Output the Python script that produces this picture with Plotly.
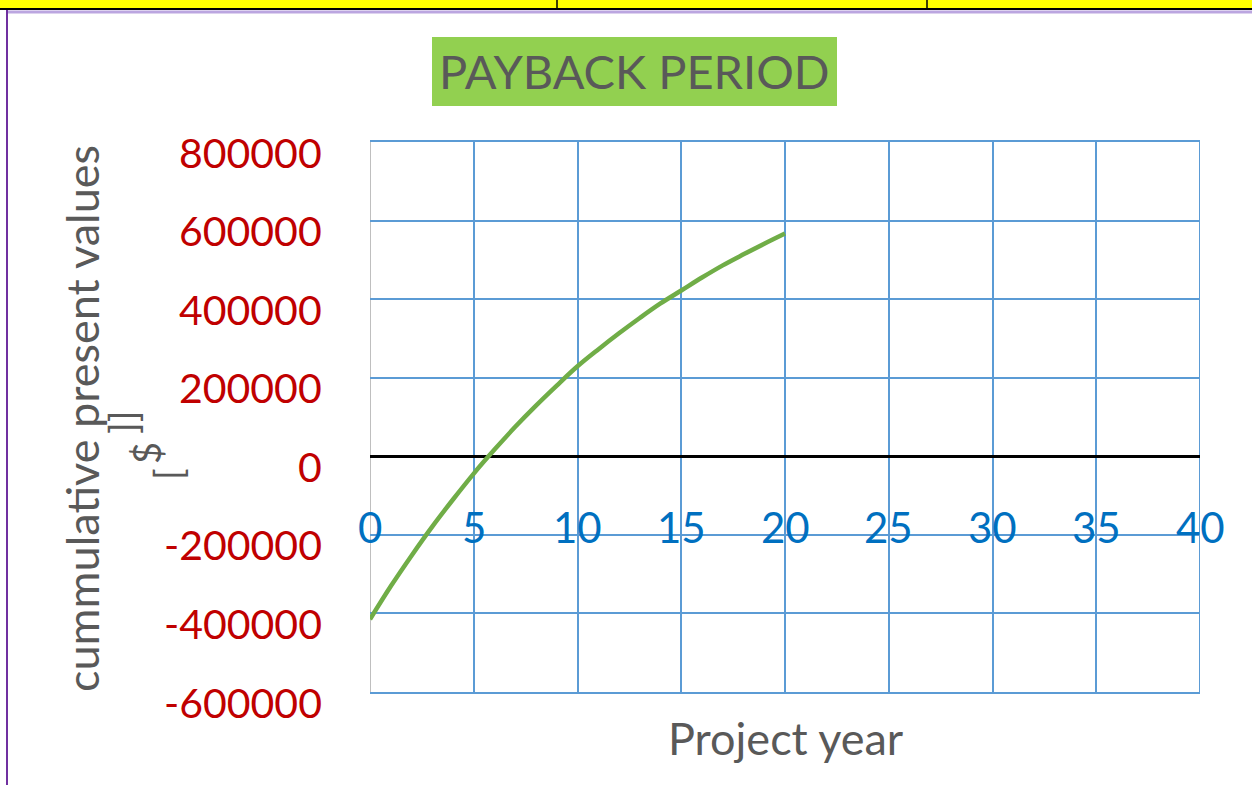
import plotly.graph_objects as go

# ---- data ----
years = list(range(0, 21))
cum_pv = [-415000, -331000, -253000, -179000, -110000, -44000, 17000, 75000,
          129000, 180000, 229000, 272000, 313000, 352000, 389000, 422000,
          455000, 486000, 514000, 541000, 567000]

x_ticks = [0, 5, 10, 15, 20, 25, 30, 35, 40]
y_ticks = [-600000, -400000, -200000, 0, 200000, 400000, 600000, 800000]
y_tick_text = ["-600000", "-400000", "-200000", "0", "200000", "400000", "600000", "800000"]

title_text = "PAYBACK PERIOD"
x_title = "Project year"
y_title = "cummulative present values"

FONT = "Lato"
W, H = 1252, 785
L, R, T, B = 370, 52, 142, 93
PW, PH = W - L - R, H - T - B
GRID = "#5B9BD5"


def px(xp):
    return (xp - L) / PW


def py(yp):
    return (H - B - yp) / PH


fig = go.Figure()
fig.add_trace(go.Scatter(x=years, y=cum_pv, mode="lines",
                         line=dict(color="#70AD47", width=4.5, shape="spline"),
                         showlegend=False, hoverinfo="skip"))

shapes = [
    # yellow strip at top with borders
    dict(type="rect", xref="paper", yref="paper", x0=px(0), x1=px(W), y0=py(9), y1=py(-5),
         fillcolor="#FFFF00", line=dict(width=0), layer="below"),
    dict(type="line", xref="paper", yref="paper", x0=px(0), x1=px(W), y0=py(9), y1=py(9),
         line=dict(color="#000000", width=2)),
    dict(type="line", xref="paper", yref="paper", x0=px(557), x1=px(557), y0=py(0), y1=py(9),
         line=dict(color="#000000", width=1.5)),
    dict(type="line", xref="paper", yref="paper", x0=px(927), x1=px(927), y0=py(0), y1=py(9),
         line=dict(color="#000000", width=1.5)),
    dict(type="line", xref="paper", yref="paper", x0=px(7), x1=px(W), y0=py(12), y1=py(12),
         line=dict(color="#BBA6E0", width=3)),
    dict(type="line", xref="paper", yref="paper", x0=px(7), x1=px(7), y0=py(10), y1=py(H + 5),
         line=dict(color="#7030A0", width=2)),
    # green title box
    dict(type="rect", xref="paper", yref="paper", x0=px(432), x1=px(837), y0=py(106), y1=py(37),
         fillcolor="#92D050", line=dict(width=0), layer="below"),
    # right edge gridline at the last x tick
    dict(type="line", xref="x", yref="paper", x0=x_ticks[-1], x1=x_ticks[-1], y0=0, y1=1,
         line=dict(color=GRID, width=2), layer="between"),
    # grey vertical axis line at the first x tick
    dict(type="line", xref="x", yref="paper", x0=x_ticks[0], x1=x_ticks[0], y0=0, y1=1,
         line=dict(color="#BFBFBF", width=2), layer="between"),
]

annotations = [
    dict(text=title_text, xref="paper", yref="paper", x=px(634.5), y=py(71),
         xanchor="center", yanchor="middle", showarrow=False,
         font=dict(family=FONT, size=47, color="#595959")),
    dict(text=x_title, xref="paper", yref="paper", x=px(786), y=py(738),
         xanchor="center", yanchor="middle", showarrow=False,
         font=dict(family=FONT, size=45, color="#595959")),
    dict(text=y_title, xref="paper", yref="paper", x=px(82), y=py(419),
         xanchor="center", yanchor="middle", showarrow=False, textangle=-90,
         font=dict(family=FONT, size=45, color="#595959")),
    dict(text="[", xref="paper", yref="paper", x=px(167), y=py(474),
         xanchor="center", yanchor="middle", showarrow=False, textangle=-90,
         font=dict(family=FONT, size=38, color="#595959")),
    dict(text="$", xref="paper", yref="paper", x=px(146), y=py(453),
         xanchor="center", yanchor="middle", showarrow=False, textangle=-90,
         font=dict(family=FONT, size=38, color="#595959")),
    dict(text="]]", xref="paper", yref="paper", x=px(122), y=py(423),
         xanchor="center", yanchor="middle", showarrow=False, textangle=-90,
         font=dict(family=FONT, size=38, color="#595959")),
]

for v in x_ticks:
    annotations.append(dict(text=str(v), xref="x", yref="y", x=v, y=-200000,
                            xanchor="center", yanchor="middle", yshift=8, showarrow=False,
                            font=dict(family=FONT, size=42, color="#0070C0")))

for v, t in zip(y_ticks, y_tick_text):
    annotations.append(dict(text=t, xref="paper", yref="y", x=px(324), y=v,
                            xanchor="right", yanchor="middle", yshift=-10, showarrow=False,
                            font=dict(family=FONT, size=41, color="#C00000")))

fig.update_layout(
    width=W, height=H,
    margin=dict(l=L, r=R, t=T, b=B, autoexpand=False),
    paper_bgcolor="#FFFFFF", plot_bgcolor="#FFFFFF",
    shapes=shapes, annotations=annotations,
    xaxis=dict(range=[0, 40], tickvals=x_ticks, showticklabels=False, ticks="",
               showgrid=True, gridcolor=GRID, gridwidth=2,
               zeroline=False, showline=True, linecolor=GRID, linewidth=2, mirror=True,
               fixedrange=True),
    yaxis=dict(range=[-600000, 800000], tickvals=y_ticks, showticklabels=False, ticks="",
               showgrid=True, gridcolor=GRID, gridwidth=2,
               zeroline=True, zerolinecolor="#000000", zerolinewidth=3,
               showline=False, fixedrange=True),
    showlegend=False,
)

fig.write_html("out.html", config={"displayModeBar": False},
               post_script="document.body.style.margin='0';")
